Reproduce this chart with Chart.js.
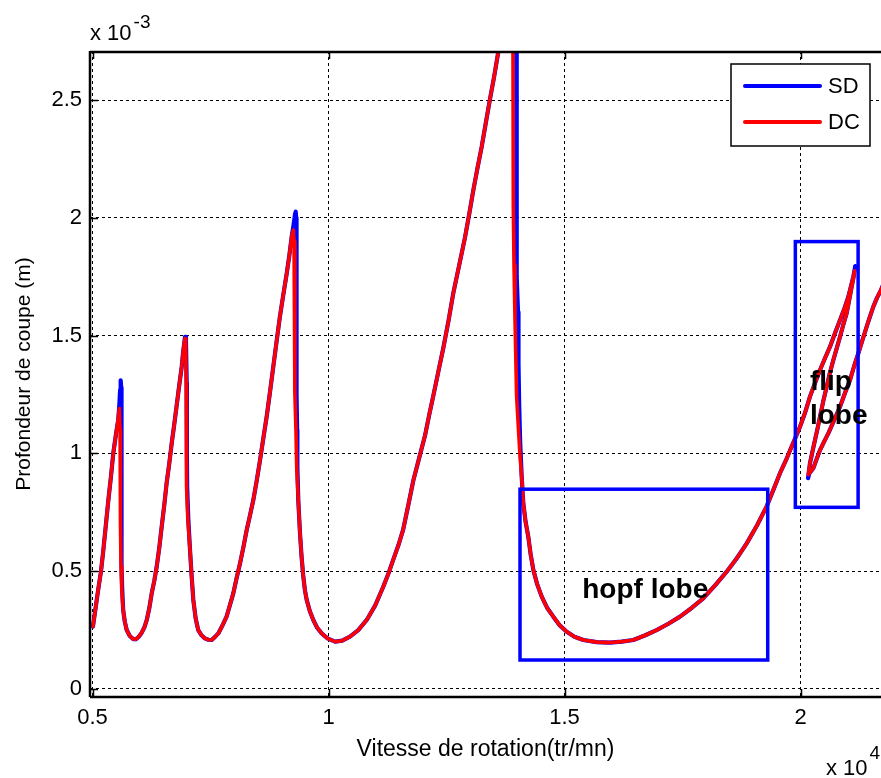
<!DOCTYPE html>
<html>
<head>
<meta charset="utf-8">
<title>Lobes de stabilité</title>
<script src="https://cdn.jsdelivr.net/npm/chart.js@4.4.1/dist/chart.umd.min.js"></script>
<style>
  html, body { margin: 0; padding: 0; background: #fff; }
  #wrap { width: 881px; height: 778px; }
</style>
</head>
<body>
<div id="wrap"><canvas id="lobes" width="881" height="778"></canvas></div>
<script>
// --- Tick values (speed in x10^4 tr/mn, depth in x10^-3 m) ---
const speedTicks = [0.5, 1, 1.5, 2];
const depthTicks = [0, 0.5, 1, 1.5, 2, 2.5];

// --- DC curve ---
const dcSpeed = [
  0.501, 0.507, 0.512, 0.518, 0.523, 0.528, 0.5335, 0.539, 0.544, 0.550,
  0.554, 0.5568, 0.5585, 0.559, 0.5595, 0.5605, 0.562, 0.565, 0.5685, 0.5725,
  0.579, 0.5865, 0.592, 0.598, 0.604, 0.610, 0.615, 0.6205, 0.6254, 0.631,
  0.636, 0.6415, 0.6466, 0.652, 0.657, 0.6625, 0.6678, 0.673, 0.678, 0.6835,
  0.689, 0.692, 0.6945, 0.696,
  0.6975, 0.6985, 0.699, 0.6995, 0.702, 0.7066, 0.710, 0.7136, 0.7185, 0.724,
  0.731, 0.738, 0.7455, 0.7525, 0.759, 0.7665, 0.775, 0.784, 0.791, 0.7983,
  0.805, 0.8125, 0.8195, 0.8267, 0.834, 0.8407, 0.848, 0.855, 0.862, 0.869,
  0.876, 0.883, 0.890, 0.897, 0.904, 0.9115, 0.917, 0.922, 0.9254,
  0.927, 0.9285, 0.929, 0.931, 0.9326, 0.936, 0.9396, 0.943, 0.9466, 0.950,
  0.9538, 0.9605, 0.9678, 0.976, 0.9856, 0.998, 1.0138, 1.029, 1.0455, 1.063,
  1.081, 1.099, 1.116, 1.127, 1.137, 1.148, 1.158, 1.169, 1.1797, 1.192,
  1.2045, 1.213, 1.222, 1.2325, 1.243, 1.254, 1.2644, 1.277, 1.289, 1.298,
  1.3068, 1.3155, 1.3245, 1.333, 1.342, 1.351, 1.3597, 1.372, 1.385,
  1.3905, 1.3915, 1.393, 1.395, 1.3985, 1.4025, 1.4057, 1.4093, 1.4127, 1.4175,
  1.4233, 1.428, 1.434, 1.442, 1.4517, 1.463, 1.4763, 1.490, 1.5047, 1.521,
  1.54, 1.568, 1.5964, 1.621, 1.6457, 1.670, 1.695, 1.720, 1.7447, 1.770,
  1.794, 1.819, 1.8436, 1.865, 1.886, 1.908, 1.928, 1.9425, 1.9565, 1.969,
  1.981, 1.990, 1.9989, 2.010, 2.02, 2.031, 2.0413, 2.052, 2.0625, 2.073,
  2.0837, 2.093, 2.1013, 2.107, 2.1119, 2.1145,
  2.1120, 2.1084, 2.103, 2.0978, 2.0905, 2.0837, 2.0765, 2.0695, 2.062, 2.0554,
  2.048, 2.0413, 2.036, 2.0307, 2.025, 2.02, 2.0166, 2.0185, 2.0271, 2.034,
  2.0413, 2.050, 2.0589, 2.071, 2.0837, 2.094, 2.1049, 2.1135, 2.1225, 2.131,
  2.1402, 2.147, 2.1543, 2.162, 2.1706, 2.18
];
const dcDepth = [
  0.265, 0.35, 0.42, 0.50, 0.59, 0.69, 0.80, 0.90, 1.00, 1.085,
  1.14, 1.19, 1.10, 0.90, 0.70, 0.52, 0.42, 0.335, 0.285, 0.25,
  0.225, 0.212, 0.211, 0.222, 0.238, 0.262, 0.293, 0.345, 0.406, 0.46,
  0.519, 0.60, 0.689, 0.78, 0.873, 0.955, 1.043, 1.12, 1.198, 1.285,
  1.368, 1.43, 1.47, 1.488,
  1.47, 1.30, 1.00, 0.86, 0.72, 0.59, 0.48, 0.378, 0.30, 0.25,
  0.228, 0.215, 0.209, 0.208, 0.22, 0.236, 0.268, 0.307, 0.355, 0.406,
  0.468, 0.533, 0.60, 0.675, 0.74, 0.802, 0.885, 0.972, 1.065, 1.156,
  1.26, 1.368, 1.475, 1.58, 1.67, 1.764, 1.84, 1.92, 1.948,
  1.90, 1.60, 1.255, 1.10, 0.944, 0.80, 0.661, 0.56, 0.477, 0.42,
  0.378, 0.33, 0.293, 0.26, 0.236, 0.215, 0.201, 0.205, 0.222, 0.25,
  0.293, 0.355, 0.434, 0.49, 0.548, 0.61, 0.675, 0.78, 0.885, 0.98,
  1.076, 1.16, 1.244, 1.345, 1.445, 1.56, 1.68, 1.80, 1.915, 2.015,
  2.117, 2.21, 2.301, 2.40, 2.503, 2.60, 2.704, 2.90, 3.10,
  3.0, 2.05, 1.80, 1.58, 1.244, 1.10, 0.99, 0.90, 0.788, 0.71,
  0.646, 0.575, 0.505, 0.445, 0.392, 0.345, 0.307, 0.27, 0.243, 0.222,
  0.208, 0.199, 0.197, 0.201, 0.208, 0.227, 0.250, 0.277, 0.307, 0.345,
  0.385, 0.44, 0.498, 0.555, 0.618, 0.695, 0.774, 0.845, 0.916, 0.97,
  1.028, 1.07, 1.113, 1.175, 1.241, 1.30, 1.354, 1.405, 1.453, 1.51,
  1.566, 1.615, 1.665, 1.71, 1.75, 1.775,
  1.74, 1.708, 1.65, 1.595, 1.545, 1.495, 1.445, 1.396, 1.34, 1.283,
  1.22, 1.156, 1.105, 1.057, 1.005, 0.958, 0.91, 0.915, 0.937, 0.975,
  1.014, 1.05, 1.085, 1.14, 1.198, 1.255, 1.312, 1.37, 1.425, 1.48,
  1.538, 1.58, 1.623, 1.66, 1.694, 1.74
];

// --- SD curve ---
const sdSpeed = [
  0.501, 0.507, 0.512, 0.518, 0.523, 0.528, 0.5335, 0.539, 0.544, 0.550,
  0.5545, 0.557, 0.5585, 0.5597, 0.5607, 0.561, 0.5615, 0.562, 0.563, 0.565,
  0.5685, 0.5725, 0.579, 0.5865, 0.592, 0.598, 0.604, 0.610, 0.615, 0.6205,
  0.6254, 0.631, 0.636, 0.6415, 0.6466, 0.652, 0.657, 0.6625, 0.6678, 0.673,
  0.678, 0.6835, 0.689, 0.692, 0.6945, 0.696,
  0.698, 0.6995, 0.700, 0.7005, 0.703, 0.7066, 0.710, 0.7136, 0.7185, 0.724,
  0.731, 0.738, 0.7455, 0.7525, 0.759, 0.7665, 0.775, 0.784, 0.791, 0.7983,
  0.805, 0.8125, 0.8195, 0.8267, 0.834, 0.8407, 0.848, 0.855, 0.862, 0.869,
  0.876, 0.883, 0.890, 0.897, 0.904, 0.9115, 0.917, 0.922, 0.926, 0.9295,
  0.9305, 0.9315, 0.932, 0.9325, 0.9335, 0.934, 0.936, 0.9396, 0.943, 0.9466,
  0.950, 0.9538, 0.9605, 0.9678, 0.976, 0.9856, 0.998, 1.0138, 1.029, 1.0455,
  1.063, 1.081, 1.099, 1.116, 1.127, 1.137, 1.148, 1.158, 1.169, 1.1797,
  1.192, 1.2045, 1.213, 1.222, 1.2325, 1.243, 1.254, 1.2644, 1.277, 1.289,
  1.298, 1.3068, 1.3155, 1.3245, 1.333, 1.342, 1.351, 1.3597, 1.372, 1.385,
  1.3975, 1.3987, 1.4015, 1.4025, 1.404, 1.406, 1.4093, 1.4127, 1.4175,
  1.4233, 1.428, 1.434, 1.442, 1.4517, 1.463, 1.4763, 1.490, 1.5047, 1.521,
  1.54, 1.568, 1.5964, 1.621, 1.6457, 1.670, 1.695, 1.720, 1.7447, 1.770,
  1.794, 1.819, 1.8436, 1.865, 1.886, 1.908, 1.928, 1.9425, 1.9565, 1.969,
  1.981, 1.990, 1.9989, 2.010, 2.02, 2.031, 2.0413, 2.052, 2.0625, 2.073,
  2.0837, 2.093, 2.1013, 2.107, 2.1119, 2.116,
  2.1125, 2.1084, 2.103, 2.0978, 2.0905, 2.0837, 2.0765, 2.0695, 2.062, 2.0554,
  2.048, 2.0413, 2.036, 2.0307, 2.025, 2.02, 2.016, 2.0185, 2.0271, 2.034,
  2.0413, 2.050, 2.0589, 2.071, 2.0837, 2.094, 2.1049, 2.1135, 2.1225, 2.131,
  2.1402, 2.147, 2.1543, 2.162, 2.1706, 2.18
];
const sdDepth = [
  0.265, 0.35, 0.42, 0.50, 0.59, 0.69, 0.80, 0.90, 1.00, 1.085,
  1.14, 1.21, 1.27, 1.31, 1.28, 0.90, 0.70, 0.52, 0.42, 0.335,
  0.285, 0.25, 0.225, 0.212, 0.211, 0.222, 0.238, 0.262, 0.293, 0.345,
  0.406, 0.46, 0.519, 0.60, 0.689, 0.78, 0.873, 0.955, 1.043, 1.12,
  1.198, 1.285, 1.368, 1.43, 1.47, 1.495,
  1.48, 1.30, 1.00, 0.86, 0.72, 0.59, 0.48, 0.378, 0.30, 0.25,
  0.228, 0.215, 0.209, 0.208, 0.22, 0.236, 0.268, 0.307, 0.355, 0.406,
  0.468, 0.533, 0.60, 0.675, 0.74, 0.802, 0.885, 0.972, 1.065, 1.156,
  1.26, 1.368, 1.475, 1.58, 1.67, 1.764, 1.84, 1.92, 1.97, 2.02,
  2.026, 2.00, 1.60, 1.255, 1.10, 0.944, 0.80, 0.661, 0.56, 0.477,
  0.42, 0.378, 0.33, 0.293, 0.26, 0.236, 0.215, 0.201, 0.205, 0.222,
  0.25, 0.293, 0.355, 0.434, 0.49, 0.548, 0.61, 0.675, 0.78, 0.885,
  0.98, 1.076, 1.16, 1.244, 1.345, 1.445, 1.56, 1.68, 1.80, 1.915,
  2.015, 2.117, 2.21, 2.301, 2.40, 2.503, 2.60, 2.704, 2.90, 3.10,
  3.0, 1.75, 1.60, 1.38, 1.20, 1.05, 0.90, 0.788, 0.71,
  0.646, 0.575, 0.505, 0.445, 0.392, 0.345, 0.307, 0.27, 0.243, 0.222,
  0.208, 0.199, 0.197, 0.201, 0.208, 0.227, 0.250, 0.277, 0.307, 0.345,
  0.385, 0.44, 0.498, 0.555, 0.618, 0.695, 0.774, 0.845, 0.916, 0.97,
  1.028, 1.07, 1.113, 1.175, 1.241, 1.30, 1.354, 1.405, 1.453, 1.51,
  1.566, 1.615, 1.665, 1.71, 1.75, 1.795,
  1.75, 1.708, 1.65, 1.595, 1.545, 1.495, 1.445, 1.396, 1.34, 1.283,
  1.22, 1.156, 1.105, 1.057, 1.005, 0.958, 0.895, 0.915, 0.937, 0.975,
  1.014, 1.05, 1.085, 1.14, 1.198, 1.255, 1.312, 1.37, 1.425, 1.48,
  1.538, 1.58, 1.623, 1.66, 1.694, 1.74
];

// --- Highlighted regions (data units) ---
const lobeBoxes = [
  { speed: [1.4057, 1.9305], depth: [0.123, 0.848] },
  { speed: [1.989, 2.122], depth: [0.771, 1.899] }
];
const lobeLabels = [
  { lines: ['hopf lobe'], speed: 1.671, depth: [0.386], align: 'center' },
  { lines: ['flip', 'lobe'], speed: 2.020, depth: [1.269, 1.125], align: 'left' }
];

const FONT = "'Liberation Sans', Arial, Helvetica, sans-serif";
const BLUE = '#0000ff';
const RED = '#ff0000';

const toPoints = (xs, ys) => xs.map((v, i) => ({ x: v, y: ys[i] }));

// --- Axes frame, inward ticks, exponents, boxes, legend ---
const lobeDecor = {
  id: 'lobeDecor',
  afterDatasetsDraw(chart) {
    const { ctx, chartArea: area, scales: { x, y } } = chart;
    ctx.save();

    // region boxes + their labels
    ctx.strokeStyle = BLUE;
    ctx.lineWidth = 3.5;
    lobeBoxes.forEach(b => {
      const l = x.getPixelForValue(b.speed[0]);
      const r = x.getPixelForValue(b.speed[1]);
      const t = y.getPixelForValue(b.depth[1]);
      const btm = y.getPixelForValue(b.depth[0]);
      ctx.strokeRect(l, t, r - l, btm - t);
    });
    ctx.fillStyle = '#000';
    ctx.font = 'bold 28px ' + FONT;
    ctx.textBaseline = 'alphabetic';
    lobeLabels.forEach(lb => {
      ctx.textAlign = lb.align;
      lb.lines.forEach((txt, i) => {
        ctx.fillText(txt, x.getPixelForValue(lb.speed), y.getPixelForValue(lb.depth[i]));
      });
    });

    // axis lines
    ctx.strokeStyle = '#000';
    ctx.lineWidth = 2.5;
    ctx.beginPath();
    ctx.moveTo(area.left, area.top + 1);
    ctx.lineTo(area.right, area.top + 1);
    ctx.moveTo(area.left, area.top);
    ctx.lineTo(area.left, area.bottom);
    ctx.moveTo(area.left, area.bottom);
    ctx.lineTo(area.right, area.bottom);
    ctx.stroke();

    // inward tick marks
    ctx.lineWidth = 1.5;
    ctx.beginPath();
    speedTicks.forEach(v => {
      const px = Math.round(x.getPixelForValue(v)) + 0.5;
      ctx.moveTo(px, area.bottom);
      ctx.lineTo(px, area.bottom - 8);
      ctx.moveTo(px, area.top);
      ctx.lineTo(px, area.top + 8);
    });
    depthTicks.forEach(v => {
      const py = Math.round(y.getPixelForValue(v)) + 0.5;
      ctx.moveTo(area.left, py);
      ctx.lineTo(area.left + 8, py);
    });
    ctx.stroke();

    // axis multipliers
    ctx.textAlign = 'left';
    ctx.font = '22px ' + FONT;
    ctx.fillText('x 10', area.left, 40);
    let w = ctx.measureText('x 10').width;
    ctx.font = '19px ' + FONT;
    ctx.fillText('-3', area.left + w + 2, 28);
    ctx.font = '22px ' + FONT;
    ctx.fillText('x 10', 826, 775);
    w = ctx.measureText('x 10').width;
    ctx.font = '19px ' + FONT;
    ctx.fillText('4', 826 + w + 2, 759);

    // legend
    const lw = 139, lh = 82;
    const lx = area.right - 11 - lw, ly = area.top + 13;
    ctx.fillStyle = '#fff';
    ctx.fillRect(lx, ly, lw, lh);
    ctx.lineWidth = 1.5;
    ctx.strokeStyle = '#000';
    ctx.strokeRect(lx, ly, lw, lh);
    ctx.font = '22px ' + FONT;
    ctx.textBaseline = 'middle';
    ctx.lineCap = 'round';
    chart.data.datasets.forEach((ds, i) => {
      const cy = ly + 22 + i * 36;
      ctx.strokeStyle = ds.borderColor;
      ctx.lineWidth = 4;
      ctx.beginPath();
      ctx.moveTo(lx + 14, cy);
      ctx.lineTo(lx + 89, cy);
      ctx.stroke();
      ctx.fillStyle = '#000';
      ctx.fillText(ds.label, lx + 97, cy + 1);
    });
    ctx.restore();
  }
};

const ctx = document.getElementById('lobes').getContext('2d');
const lobeChart = new Chart(ctx, {
  type: 'line',
  data: {
    datasets: [
      {
        label: 'SD',
        data: toPoints(sdSpeed, sdDepth),
        borderColor: BLUE,
        borderWidth: 4.2,
        order: 1
      },
      {
        label: 'DC',
        data: toPoints(dcSpeed, dcDepth),
        borderColor: RED,
        borderWidth: 3.6,
        order: 0
      }
    ]
  },
  options: {
    responsive: false,
    devicePixelRatio: 1,
    animation: false,
    parsing: true,
    elements: {
      point: { radius: 0, hoverRadius: 0 },
      line: { tension: 0, fill: false, borderJoinStyle: 'round', borderCapStyle: 'round' }
    },
    layout: { padding: { top: 51, right: 0, bottom: 0, left: 0 } },
    plugins: {
      legend: { display: false },
      tooltip: { enabled: false }
    },
    scales: {
      x: {
        type: 'linear',
        min: 0.4947,
        max: 2.1705,
        afterBuildTicks: s => { s.ticks = speedTicks.map(v => ({ value: v })); },
        afterFit: s => { s.height = 81; },
        grid: { color: '#000', lineWidth: 1, drawTicks: false },
        border: { display: false, dash: [3, 3] },
        ticks: {
          color: '#000',
          font: { family: FONT, size: 22 },
          padding: 8,
          maxRotation: 0,
          autoSkip: false,
          callback: v => String(v)
        },
        title: {
          display: true,
          text: 'Vitesse de rotation(tr/mn)',
          color: '#000',
          font: { family: FONT, size: 23 },
          padding: { top: 0, bottom: 15 }
        }
      },
      y: {
        type: 'linear',
        min: -0.034,
        max: 2.708,
        afterBuildTicks: s => { s.ticks = depthTicks.map(v => ({ value: v })); },
        afterFit: s => { s.width = 90; },
        grid: { color: '#000', lineWidth: 1, drawTicks: false },
        border: { display: false, dash: [3, 3] },
        ticks: {
          color: '#000',
          font: { family: FONT, size: 22 },
          padding: 8,
          autoSkip: false,
          callback: v => String(v)
        },
        title: {
          display: true,
          text: 'Profondeur de coupe (m)',
          color: '#000',
          font: { family: FONT, size: 21 },
          padding: { top: 12, bottom: 0 }
        }
      }
    }
  },
  plugins: [lobeDecor]
});
</script>
</body>
</html>
